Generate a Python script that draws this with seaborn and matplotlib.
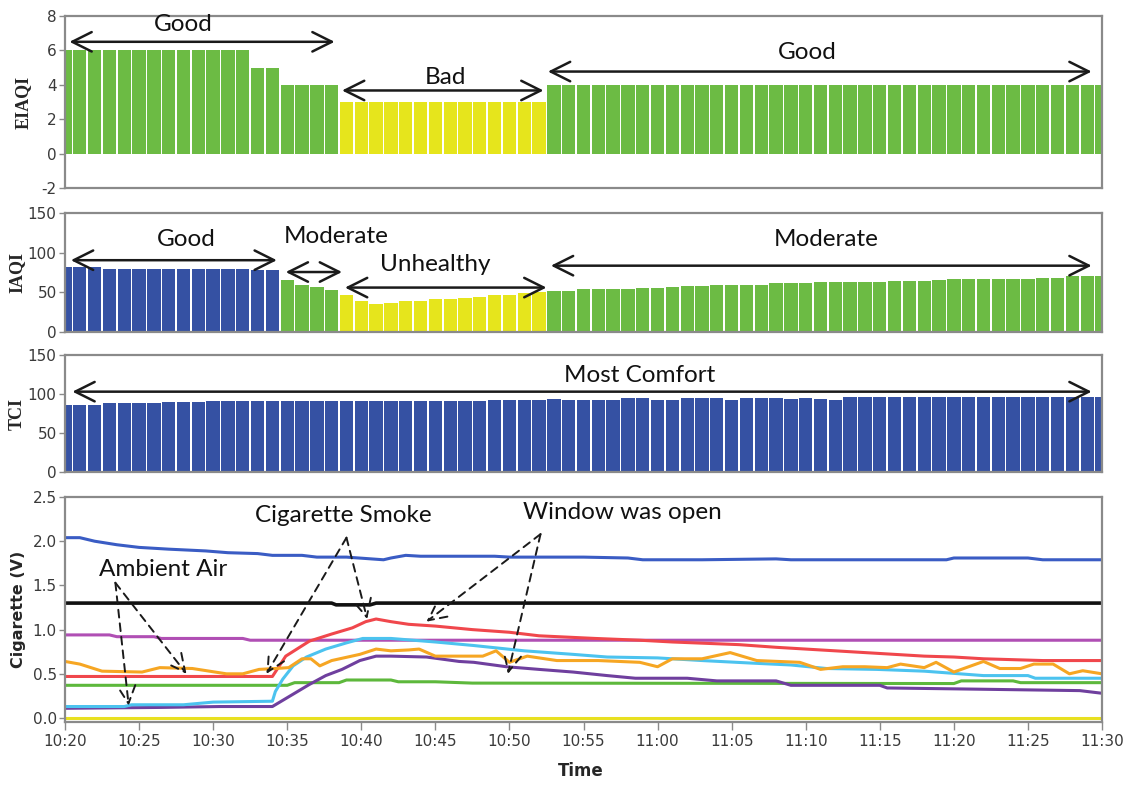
import matplotlib
matplotlib.use('Agg')
import matplotlib.pyplot as plt
import seaborn as sns
import pandas as pd

# minute index 0..70 -> 10:20 .. 11:30
minutes = list(range(71))
time_labels = ['10:20', '10:25', '10:30', '10:35', '10:40', '10:45', '10:50', '10:55',
               '11:00', '11:05', '11:10', '11:15', '11:20', '11:25', '11:30']

# EIAQI bars
eiaqi = [6] * 13 + [5] * 2 + [4] * 4 + [3] * 14 + [4] * 38
eiaqi_level = ['Good'] * 19 + ['Bad'] * 14 + ['Good'] * 38

# IAQI bars
iaqi = ([82, 82, 82] + [80] * 10 + [78, 78] +
        [66, 59, 57, 53] +
        [47, 39.4, 35.4, 37, 38.6, 38.6, 41.4, 41.4, 43.4, 44.6, 46.6, 46.6, 48.6, 50.7] +
        [51.6, 51.6, 54, 54, 54, 54, 55.5, 55.5, 56.7, 58, 58, 59.5, 59.5, 59.5, 59.5,
         62, 62, 62, 63.5, 63.5, 63.5, 63.5, 63.5, 64.7, 64.7, 64.7, 66, 66.7, 66.7,
         66.7, 66.7, 66.7, 66.7, 68.6, 68.6, 70, 70, 70])
iaqi_level = ['Good'] * 15 + ['Moderate'] * 4 + ['Unhealthy'] * 14 + ['Moderate'] * 38

# TCI bars
tci = ([86, 86, 86, 88, 88, 88, 88, 89.5, 89.5, 89.5] + [91.5] * 19 + [92.5] * 4 +
       [93.4, 92.2, 92.2, 92.2, 92.2, 95.5, 95.5, 92.2, 92.2, 95.5, 95.5, 95.5, 92.2,
        95.5, 95.5, 95.5, 93.4, 95.5, 93.4, 92.2] + [96] * 18)

# gas sensor lines (minutes after 10:20, volts)
blue_t = [0, 1, 2, 3.5, 5, 7, 9.5, 11, 13, 14, 16, 17, 19, 21.5, 22, 23, 24, 29, 30, 35,
          38, 39, 43, 48, 49, 59.5, 60, 65, 66, 70]
blue_v = [2.04, 2.04, 2.0, 1.96, 1.93, 1.91, 1.89, 1.87, 1.86, 1.84, 1.84, 1.82, 1.82, 1.79,
          1.81, 1.84, 1.83, 1.83, 1.82, 1.82, 1.81, 1.79, 1.79, 1.80, 1.79, 1.79, 1.81, 1.81,
          1.79, 1.79]
black_t = [0, 18, 18.3, 20.6, 21, 70]
black_v = [1.3, 1.3, 1.28, 1.28, 1.3, 1.3]
red_t = [0, 14, 14.9, 16.5, 18, 19.4, 20.3, 21, 22, 23.2, 25, 27.5, 30, 32, 35.8, 38.8, 41,
         45.5, 48, 51, 54, 56, 58, 60, 62, 66, 70]
red_v = [0.47, 0.47, 0.70, 0.87, 0.95, 1.02, 1.09, 1.12, 1.09, 1.06, 1.04, 1.0, 0.97, 0.93,
         0.9, 0.88, 0.86, 0.83, 0.8, 0.77, 0.74, 0.72, 0.7, 0.69, 0.67, 0.65, 0.65]
magenta_t = [0, 3, 3.5, 6, 6.5, 12, 12.5, 70]
magenta_v = [0.94, 0.94, 0.92, 0.92, 0.9, 0.9, 0.88, 0.88]
cyan_t = [0, 4, 4.5, 8, 10, 14, 14.2, 14.7, 15.4, 16.3, 17.6, 19, 20.1, 22, 25, 27.6, 31,
          34.3, 36.6, 40, 43, 46.5, 49, 51.4, 54.8, 58, 60.4, 62, 65, 65.5, 70]
cyan_v = [0.13, 0.13, 0.15, 0.15, 0.18, 0.19, 0.3, 0.44, 0.59, 0.69, 0.78, 0.85, 0.9, 0.9,
          0.86, 0.82, 0.76, 0.72, 0.69, 0.68, 0.65, 0.62, 0.6, 0.56, 0.55, 0.53, 0.5, 0.48,
          0.48, 0.45, 0.45]
orange_t = [0, 1, 2.5, 5.2, 6.4, 8.6, 10.9, 12, 13.1, 14.2, 15.1, 16, 16.6, 17.2, 18, 19.9,
            21, 22, 23.2, 23.9, 25, 28.2, 29.1, 30, 31.2, 33.2, 36, 38.8, 40, 41, 43, 44.9,
            46.7, 49.6, 51, 52.5, 54, 55.5, 56.4, 58, 58.8, 60, 62, 63.1, 64.5, 65.4, 66.7,
            67.8, 68.7, 70]
orange_v = [0.64, 0.61, 0.53, 0.52, 0.57, 0.56, 0.5, 0.5, 0.55, 0.56, 0.57, 0.67, 0.67, 0.59,
            0.65, 0.72, 0.78, 0.76, 0.77, 0.78, 0.7, 0.7, 0.76, 0.63, 0.7, 0.65, 0.65, 0.63,
            0.58, 0.67, 0.67, 0.74, 0.65, 0.63, 0.55, 0.58, 0.58, 0.57, 0.61, 0.57, 0.63,
            0.52, 0.64, 0.56, 0.56, 0.61, 0.61, 0.5, 0.535, 0.5]
purple_t = [0, 6.5, 10.5, 14, 14.5, 15.4, 16.5, 17.6, 18.7, 19.9, 21, 22, 24.4, 26.6, 27.6,
            29.8, 32, 34.3, 36.6, 38.5, 42, 44, 48, 49, 55, 55.5, 60, 68.5, 70]
purple_v = [0.11, 0.12, 0.13, 0.13, 0.18, 0.27, 0.38, 0.48, 0.55, 0.65, 0.7, 0.7, 0.69, 0.64,
            0.63, 0.58, 0.55, 0.52, 0.48, 0.45, 0.45, 0.42, 0.42, 0.37, 0.37, 0.34, 0.33,
            0.31, 0.28]
green_t = [0, 15, 15.5, 18.5, 19, 22, 22.5, 25, 27.5, 60, 60.5, 64, 64.5, 70]
green_v = [0.37, 0.37, 0.4, 0.4, 0.43, 0.43, 0.41, 0.41, 0.395, 0.39, 0.42, 0.42, 0.4, 0.4]
yellow_t = [0, 70]
yellow_v = [0.0, 0.0]

sns.set_theme(style='white')
plt.rcParams['font.family'] = ['Liberation Sans Narrow', 'DejaVu Sans']
plt.rcParams['axes.unicode_minus'] = False

GREEN, YELLOW, BLUE = '#6cbb44', '#e6e51c', '#3551a3'
SPINE = '#8a8a8a'
ANN_FONT = ['Lato', 'DejaVu Sans']

fig = plt.figure(figsize=(11.25, 7.85), dpi=100)
L, W = 65 / 1125, 1037 / 1125
ax1 = fig.add_axes([L, 1 - 188 / 785, W, 172 / 785])
ax2 = fig.add_axes([L, 1 - 332 / 785, W, 119 / 785])
ax3 = fig.add_axes([L, 1 - 472 / 785, W, 117 / 785])
ax4 = fig.add_axes([L, 1 - 722 / 785, W, 225 / 785])

bars = pd.DataFrame({'minute': minutes, 'eiaqi': eiaqi, 'eiaqi_level': eiaqi_level,
                     'iaqi': iaqi, 'iaqi_level': iaqi_level, 'tci': tci})
bars['tci_level'] = 'Comfort'

sns.barplot(data=bars, x='minute', y='eiaqi', hue='eiaqi_level', dodge=False, width=0.9,
            palette={'Good': GREEN, 'Bad': YELLOW}, saturation=1, legend=False,
            linewidth=0, ax=ax1)
sns.barplot(data=bars, x='minute', y='iaqi', hue='iaqi_level', dodge=False, width=0.9,
            palette={'Good': BLUE, 'Moderate': GREEN, 'Unhealthy': YELLOW}, saturation=1,
            legend=False, linewidth=0, ax=ax2)
sns.barplot(data=bars, x='minute', y='tci', hue='tci_level', dodge=False, width=0.9,
            palette={'Comfort': BLUE}, saturation=1, legend=False, linewidth=0, ax=ax3)

series = [(blue_t, blue_v, '#3a5cc4'), (black_t, black_v, '#111111'),
          (magenta_t, magenta_v, '#b04fb4'), (red_t, red_v, '#f0474c'),
          (green_t, green_v, '#5db83c'), (purple_t, purple_v, '#6f3f9e'),
          (cyan_t, cyan_v, '#4cc3ef'), (orange_t, orange_v, '#f6a623'),
          (yellow_t, yellow_v, '#e8e020')]
for t, v, c in series:
    sns.lineplot(x=t, y=v, color=c, linewidth=2.2 if c != '#111111' else 2.6, ax=ax4)

ax1.set_ylim(-2, 8)
ax1.set_yticks([-2, 0, 2, 4, 6, 8])
for ax in (ax2, ax3):
    ax.set_ylim(0, 150)
    ax.set_yticks([0, 50, 100, 150])
ax4.set_ylim(-0.045, 2.5)
ax4.set_yticks([0, 0.5, 1.0, 1.5, 2.0, 2.5])
ax4.set_yticklabels(['0.0', '0.5', '1.0', '1.5', '2.0', '2.5'])
ax4.set_xticks(range(0, 71, 5))
ax4.set_xticklabels(time_labels)

for ax in (ax1, ax2, ax3, ax4):
    ax.set_xlim(0, 70)
    for s in ax.spines.values():
        s.set_color(SPINE)
        s.set_linewidth(1.6)
    ax.tick_params(axis='y', left=True, direction='out', length=4, width=1, color=SPINE,
                   labelsize=11, labelcolor='#3a3a3a', pad=2)
    ax.set_xlabel('')
for ax in (ax1, ax2, ax3):
    ax.set_xticks([])
ax4.tick_params(axis='x', bottom=True, direction='out', length=6, width=1, color=SPINE,
                labelsize=11, labelcolor='#3a3a3a', pad=3)

serif = ['Liberation Serif', 'DejaVu Serif']
ax1.set_ylabel('EIAQI', fontsize=13, fontweight='bold', family=serif)
ax1.yaxis.set_label_coords(-0.032, 0.5)
ax2.set_ylabel('IAQI', fontsize=13, fontweight='bold', family=serif)
ax2.yaxis.set_label_coords(-0.038, 0.5)
ax3.set_ylabel('TCI', fontsize=13, fontweight='bold', family=serif)
ax3.yaxis.set_label_coords(-0.038, 0.5)
ax4.set_ylabel('Cigarette (V)', fontsize=11.5, fontweight='bold')
ax4.yaxis.set_label_coords(-0.038, 0.5)
ax4.set_xlabel('Time', fontsize=12, fontweight='bold')
ax4.xaxis.set_label_coords(0.497, -0.18)


def span(ax, x0, x1, y):
    ax.annotate('', xy=(x1, y), xytext=(x0, y), annotation_clip=False,
                arrowprops=dict(arrowstyle='<->,head_length=0.7,head_width=0.35',
                                color='#1a1a1a', lw=1.8, mutation_scale=20,
                                shrinkA=0, shrinkB=0))


def label(ax, x, y, s):
    ax.text(x, y, s, ha='center', va='center', fontsize=17.5, family=ANN_FONT,
            color='#111111')


def pointer(ax, x0, y0, x1, y1):
    ax.annotate('', xy=(x1, y1), xytext=(x0, y0), annotation_clip=False,
                arrowprops=dict(arrowstyle='->,head_length=0.7,head_width=0.35',
                                color='#1a1a1a', lw=1.4, linestyle=(0, (4, 3)),
                                mutation_scale=18, shrinkA=0, shrinkB=0))


span(ax1, 0.3, 18.2, 6.5)
label(ax1, 8.0, 7.52, 'Good')
span(ax1, 18.7, 32.3, 3.67)
label(ax1, 25.7, 4.44, 'Bad')
span(ax1, 32.6, 69.3, 4.77)
label(ax1, 50.1, 5.85, 'Good')

span(ax2, 0.4, 14.3, 90.5)
label(ax2, 8.2, 116, 'Good')
span(ax2, 14.9, 18.7, 75.6)
label(ax2, 18.3, 120, 'Moderate')
span(ax2, 18.9, 32.5, 56)
label(ax2, 25.0, 85, 'Unhealthy')
span(ax2, 32.8, 69.3, 83.6)
label(ax2, 51.4, 116, 'Moderate')

span(ax3, 0.5, 69.3, 103)
label(ax3, 38.8, 124, 'Most Comfort')

label(ax4, 6.6, 1.68, 'Ambient Air')
pointer(ax4, 3.4, 1.53, 4.3, 0.14)
pointer(ax4, 3.4, 1.53, 8.2, 0.5)
label(ax4, 18.8, 2.29, 'Cigarette Smoke')
pointer(ax4, 19.0, 2.04, 13.6, 0.5)
pointer(ax4, 19.0, 2.04, 20.4, 1.12)
label(ax4, 37.6, 2.32, 'Window was open')
pointer(ax4, 32.1, 2.08, 24.4, 1.09)
pointer(ax4, 32.1, 2.08, 29.9, 0.5)

fig.savefig('out.png', dpi=100)
